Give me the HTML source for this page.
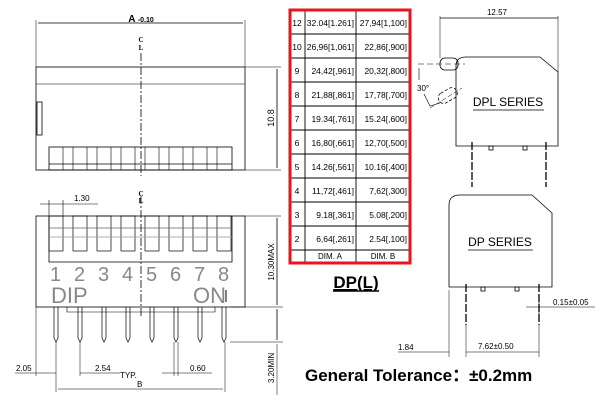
<!DOCTYPE html>
<html><head><meta charset="utf-8"><style>
html,body{margin:0;padding:0;background:#fff;}
svg{display:block;font-family:"Liberation Sans",sans-serif;}
</style></head><body>
<svg width="600" height="400" viewBox="0 0 600 400" xmlns="http://www.w3.org/2000/svg">
<g stroke="#000" stroke-width="0.8" fill="none">
<!-- TOP VIEW -->
<rect x="36" y="67" width="209" height="103"/>
<line x1="36" y1="84" x2="245" y2="84" stroke="#555"/>
<rect x="37" y="102" width="5" height="33"/>
<rect x="49" y="147" width="183" height="23"/>
<line x1="49" y1="164" x2="232" y2="164"/>
<g stroke-width="0.6">
<line x1="63" y1="147" x2="63" y2="170"/><line x1="73" y1="147" x2="73" y2="170"/>
<line x1="87" y1="147" x2="87" y2="170"/><line x1="97" y1="147" x2="97" y2="170"/>
<line x1="111" y1="147" x2="111" y2="170"/><line x1="121" y1="147" x2="121" y2="170"/>
<line x1="135" y1="147" x2="135" y2="170"/><line x1="145" y1="147" x2="145" y2="170"/>
<line x1="159" y1="147" x2="159" y2="170"/><line x1="169" y1="147" x2="169" y2="170"/>
<line x1="183" y1="147" x2="183" y2="170"/><line x1="193" y1="147" x2="193" y2="170"/>
<line x1="207" y1="147" x2="207" y2="170"/><line x1="217" y1="147" x2="217" y2="170"/>
</g>
<line x1="141" y1="53" x2="141" y2="176" stroke-dasharray="8 2 2 2"/>
<line x1="36" y1="20" x2="36" y2="67" stroke-width="0.5"/>
<line x1="245" y1="20" x2="245" y2="67" stroke-width="0.5"/>
<line x1="38" y1="23" x2="243" y2="23"/>
<line x1="245" y1="67" x2="281" y2="67" stroke-width="0.5"/>
<line x1="245" y1="170" x2="281" y2="170" stroke-width="0.5"/>
<line x1="277" y1="69" x2="277" y2="168"/>

<!-- FRONT VIEW -->
<rect x="36" y="216" width="209" height="91"/>
<polyline points="49,216 49,262 232,262 232,216"/>
<g stroke-width="0.7">
<rect x="49" y="216" width="14" height="35"/><rect x="73" y="216" width="14" height="35"/>
<rect x="97" y="216" width="14" height="35"/><rect x="121" y="216" width="14" height="35"/>
<rect x="145" y="216" width="14" height="35"/><rect x="169" y="216" width="14" height="35"/>
<rect x="193" y="216" width="14" height="35"/><rect x="217" y="216" width="14" height="35"/>
<line x1="49" y1="228" x2="232" y2="228" stroke="#666"/>
<line x1="49" y1="237" x2="232" y2="237" stroke="#999"/>
</g>
<polyline points="67,307 67,312 215,312 215,307" stroke-width="0.6"/>
<g stroke-width="0.7">
<path d="M54,307 V338 L56,342 L58,338 V307"/><path d="M78,307 V338 L80,342 L82,338 V307"/>
<path d="M102,307 V338 L104,342 L106,338 V307"/><path d="M126,307 V338 L128,342 L130,338 V307"/>
<path d="M150,307 V338 L152,342 L154,338 V307"/><path d="M174,307 V338 L176,342 L178,338 V307"/>
<path d="M198,307 V338 L200,342 L202,338 V307"/><path d="M222,307 V338 L224,342 L226,338 V307"/>
</g>
<line x1="141" y1="196" x2="141" y2="318" stroke-dasharray="8 2 2 2"/>
<line x1="40" y1="204" x2="98" y2="204" stroke-width="0.6"/>
<line x1="49" y1="200" x2="49" y2="216" stroke-width="0.6"/>
<line x1="63" y1="200" x2="63" y2="216" stroke-width="0.6"/>
<line x1="245" y1="216" x2="281" y2="216" stroke-width="0.5"/>
<line x1="230" y1="307" x2="283" y2="307" stroke-width="0.5"/>
<line x1="230" y1="342" x2="283" y2="342" stroke-width="0.5"/>
<line x1="277" y1="218" x2="277" y2="305"/>
<line x1="277" y1="309" x2="277" y2="340"/>
<line x1="277" y1="344" x2="277" y2="395" stroke-width="0.5"/>
<line x1="36" y1="307" x2="36" y2="376" stroke-width="0.5"/>
<line x1="56" y1="342" x2="56" y2="392" stroke-width="0.5"/>
<line x1="80" y1="342" x2="80" y2="376" stroke-width="0.5"/>
<line x1="174" y1="342" x2="174" y2="376" stroke-width="0.5"/>
<line x1="178" y1="342" x2="178" y2="376" stroke-width="0.5"/>
<line x1="225" y1="342" x2="225" y2="392" stroke-width="0.5"/>
<line x1="15" y1="373" x2="56" y2="373" stroke-width="0.6"/>
<line x1="80" y1="373" x2="120" y2="373" stroke-width="0.6"/>
<line x1="162" y1="373" x2="212" y2="373" stroke-width="0.6"/>
<line x1="58" y1="389" x2="223" y2="389" stroke-width="0.6"/>

<!-- DPL -->
<line x1="440" y1="18" x2="558" y2="18"/>
<line x1="440" y1="16" x2="440" y2="58" stroke-width="0.5"/>
<line x1="558" y1="16" x2="558" y2="72" stroke-width="0.5"/>
<path d="M456,146 V66 Q456,57 466,57 H540 L558,72 V146 Z"/>
<rect x="440" y="58" width="18" height="12" rx="5"/>
<line x1="418" y1="64" x2="465" y2="64" stroke-dasharray="6 3" stroke-width="0.5"/>
<g transform="rotate(-30 448 96)"><rect x="438" y="90" width="20" height="11" rx="5" stroke-dasharray="3 2"/></g>
<line x1="430" y1="108" x2="462" y2="88" stroke-width="0.5" stroke-dasharray="5 2"/>
<polyline points="419,68 419,80" stroke-width="0.6"/>
<polyline points="424,94 430,106 440,103" stroke-width="0.6"/>
<line x1="473" y1="110" x2="544" y2="110"/>
<line x1="472" y1="142" x2="472" y2="187" stroke-width="1.3" stroke-dasharray="8 2"/>
<line x1="546" y1="142" x2="546" y2="187" stroke-width="1.3" stroke-dasharray="8 2"/>
<rect x="489" y="146" width="4" height="4"/><rect x="523" y="146" width="4" height="4"/>

<!-- DP -->
<path d="M449,287 V205 Q449,195 460,195 H532 L552,213 V287 Z"/>
<line x1="468" y1="250" x2="533" y2="250"/>
<line x1="466" y1="284" x2="466" y2="325" stroke-width="1.3" stroke-dasharray="8 2"/>
<line x1="539" y1="284" x2="539" y2="325" stroke-width="1.3" stroke-dasharray="8 2"/>
<rect x="481" y="287" width="4" height="4"/><rect x="515" y="287" width="4" height="4"/>
<line x1="449" y1="290" x2="449" y2="357" stroke-width="0.5"/>
<line x1="466" y1="325" x2="466" y2="357" stroke-width="0.5"/>
<line x1="539" y1="325" x2="539" y2="357" stroke-width="0.5"/>
<line x1="398" y1="352" x2="449" y2="352" stroke-width="0.6"/>
<line x1="466" y1="352" x2="539" y2="352" stroke-width="0.6"/>
<line x1="526" y1="307" x2="595" y2="307" stroke-width="0.6"/>
<line x1="539" y1="300" x2="539" y2="316" stroke-width="0.6"/>

<!-- TABLE -->
<g stroke-width="0.9">
<line x1="305" y1="10" x2="305" y2="262"/><line x1="356" y1="10" x2="356" y2="262"/>
<line x1="289" y1="34" x2="410" y2="34"/><line x1="289" y1="58" x2="410" y2="58"/>
<line x1="289" y1="82" x2="410" y2="82"/><line x1="289" y1="106" x2="410" y2="106"/>
<line x1="289" y1="130" x2="410" y2="130"/><line x1="289" y1="154" x2="410" y2="154"/>
<line x1="289" y1="178" x2="410" y2="178"/><line x1="289" y1="202" x2="410" y2="202"/>
<line x1="289" y1="226" x2="410" y2="226"/><line x1="289" y1="250" x2="410" y2="250"/>
</g>
<rect x="290" y="10" width="120" height="253" stroke="#e8141e" stroke-width="3"/>
</g>

<g fill="#000" font-size="9">
<text x="141" y="22" font-size="10" font-weight="bold" text-anchor="middle">A <tspan font-size="7">-0.10</tspan></text>
<text x="141" y="42" font-size="7" font-weight="bold" text-anchor="middle" font-family="Liberation Serif">C</text>
<text x="141" y="50" font-size="7" font-weight="bold" text-anchor="middle" font-family="Liberation Serif">L</text>
<text x="141" y="196" font-size="7" font-weight="bold" text-anchor="middle" font-family="Liberation Serif">C</text>
<text x="141" y="203" font-size="7" font-weight="bold" text-anchor="middle" font-family="Liberation Serif">L</text>
<text transform="translate(274,118) rotate(-90)" text-anchor="middle">10.8</text>
<text x="74" y="201" font-size="8">1.30</text>
<g fill="#888" font-size="20" font-weight="300">
<text x="50" y="281">1</text><text x="74" y="281">2</text><text x="98" y="281">3</text><text x="122" y="281">4</text>
<text x="146" y="281">5</text><text x="170" y="281">6</text><text x="194" y="281">7</text><text x="218" y="281">8</text>
<text x="51" y="303" font-size="22">DIP</text><text x="193" y="303" font-size="22">ON</text>
</g>
<line x1="226" y1="290" x2="226" y2="302" stroke="#000"/>
<text transform="translate(274,262) rotate(-90)" text-anchor="middle" font-size="8">10.30MAX</text>
<text transform="translate(274,368) rotate(-90)" text-anchor="middle" font-size="8">3.20MIN</text>
<text x="16" y="371" font-size="8">2.05</text>
<text x="95" y="371" font-size="8">2.54</text>
<text x="120" y="378" font-size="8">TYP.</text>
<text x="190" y="371" font-size="8">0.60</text>
<text x="137" y="387" font-size="8">B</text>

<text x="497" y="15" font-size="8" text-anchor="middle">12.57</text>
<text x="417" y="91" font-size="8">30°</text>
<text x="508" y="106" font-size="12" text-anchor="middle">DPL SERIES</text>
<text x="500" y="246" font-size="12" text-anchor="middle">DP SERIES</text>
<text x="553" y="305" font-size="8">0.15±0.05</text>
<text x="398" y="350" font-size="8">1.84</text>
<text x="478" y="349" font-size="8">7.62±0.50</text>

<g font-size="8.5">
<text x="297" y="26" text-anchor="middle">12</text><text x="297" y="50" text-anchor="middle">10</text>
<text x="297" y="74" text-anchor="middle">9</text><text x="297" y="98" text-anchor="middle">8</text>
<text x="297" y="122" text-anchor="middle">7</text><text x="297" y="146" text-anchor="middle">6</text>
<text x="297" y="170" text-anchor="middle">5</text><text x="297" y="194" text-anchor="middle">4</text>
<text x="297" y="218" text-anchor="middle">3</text><text x="297" y="242" text-anchor="middle">2</text>
<g text-anchor="end">
<text x="354" y="26">32.04[1.261]</text><text x="354" y="50">26,96[1,061]</text>
<text x="354" y="74">24,42[,961]</text><text x="354" y="98">21,88[,861]</text>
<text x="354" y="122">19.34[,761]</text><text x="354" y="146">16,80[,661]</text>
<text x="354" y="170">14.26[,561]</text><text x="354" y="194">11,72[,461]</text>
<text x="354" y="218">9.18[,361]</text><text x="354" y="242">6,64[,261]</text>
<text x="407" y="26">27,94[1,100]</text><text x="407" y="50">22,86[,900]</text>
<text x="407" y="74">20,32[,800]</text><text x="407" y="98">17,78[,700]</text>
<text x="407" y="122">15.24[,600]</text><text x="407" y="146">12,70[,500]</text>
<text x="407" y="170">10.16[,400]</text><text x="407" y="194">7,62[,300]</text>
<text x="407" y="218">5.08[,200]</text><text x="407" y="242">2.54[,100]</text>
</g>
<text x="330" y="259" font-size="8" text-anchor="middle">DIM. A</text>
<text x="383" y="259" font-size="8" text-anchor="middle">DIM. B</text>
</g>
<text x="356" y="288" font-size="17" font-weight="bold" text-anchor="middle" text-decoration="underline">DP(L)</text>
<line x1="333" y1="291" x2="379" y2="291" stroke="#000" stroke-width="1.5"/>
<text x="305" y="381" font-size="17" font-weight="bold">General Tolerance：±0.2mm</text>
</g>
</svg>
</body></html>
